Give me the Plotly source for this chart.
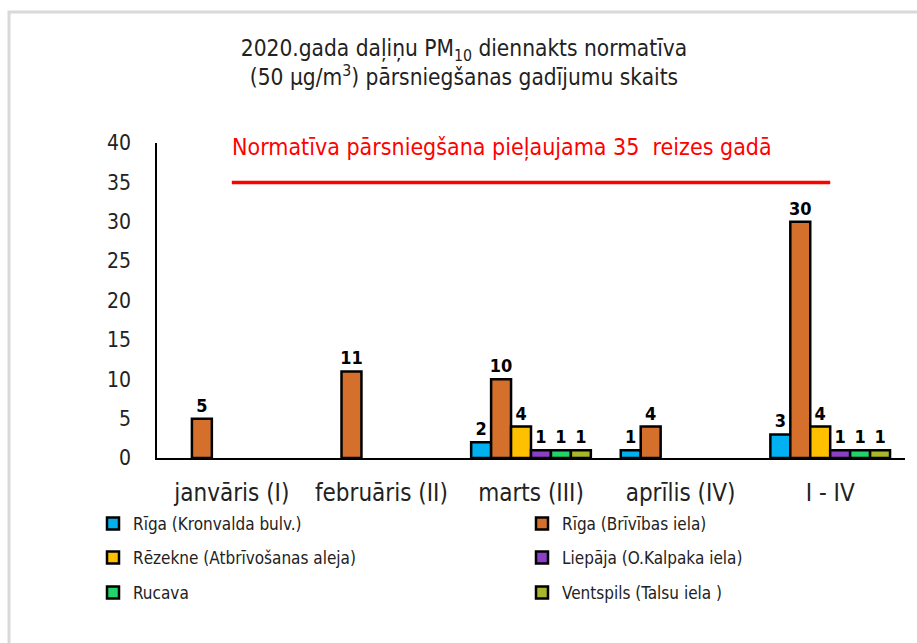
import plotly.graph_objects as go

categories = ["janvāris (I)", "februāris (II)", "marts (III)", "aprīlis (IV)", "I - IV"]

riga_kronvalda = [None, None, 2, 1, 3]
riga_brivibas = [5, 11, 10, 4, 30]
rezekne = [None, None, 4, None, 4]
liepaja = [None, None, 1, None, 1]
rucava = [None, None, 1, None, 1]
ventspils = [None, None, 1, None, 1]

series_names = [
    "Rīga (Kronvalda bulv.)",
    "Rīga (Brīvības iela)",
    "Rēzekne (Atbrīvošanas aleja)",
    "Liepāja (O.Kalpaka iela)",
    "Rucava",
    "Ventspils (Talsu iela )",
]
series_values = [riga_kronvalda, riga_brivibas, rezekne, liepaja, rucava, ventspils]
series_colors = ["#00B0F0", "#D4702C", "#FFC000", "#8A3FC6", "#22D36A", "#A9B52A"]

norm_limit = [35, 35, 35, 35, 35]
norm_text = "Normatīva pārsniegšana pieļaujama 35  reizes gadā"

y_ticks = [0, 5, 10, 15, 20, 25, 30, 35, 40]

FONT = "DejaVu Sans Condensed, DejaVu Sans, sans-serif"
TXT = "#222222"

W, H = 917, 643
ML, MR, MT, MB = 157, 12, 143, 185
PW, PH = W - ML - MR, H - MT - MB


def px_x(p):
    return (p - ML) / PW


def px_y(p):
    return (H - MB - p) / PH


fig = go.Figure()

legend_ids = ["legend", "legend2", "legend3", "legend4", "legend5", "legend6"]
for name, vals, col, lg in zip(series_names, series_values, series_colors, legend_ids):
    fig.add_trace(go.Bar(
        x=categories, y=vals, name=name,
        marker=dict(color=col, line=dict(color="black", width=2.5)),
        text=[("" if v is None else str(v)) for v in vals],
        textposition="outside",
        textfont=dict(family=FONT, size=18, color="black", weight="bold"),
        constraintext="none",
        cliponaxis=False,
        legend=lg,
    ))

fig.add_trace(go.Scatter(
    x=categories, y=norm_limit, mode="lines",
    line=dict(color="#FF0000", width=3.5),
    showlegend=False, hoverinfo="skip",
))

fig.add_annotation(
    x=categories[0], y=39.4, xref="x", yref="y",
    text=norm_text, showarrow=False, xanchor="left", yanchor="middle",
    xshift=-2,
    font=dict(family=FONT, size=23, color="#FF0000"),
)

fig.add_shape(
    type="rect", xref="paper", yref="paper",
    x0=px_x(9), x1=px_x(940), y0=px_y(680), y1=px_y(12),
    line=dict(color="#D9D9D9", width=3), fillcolor="rgba(0,0,0,0)", layer="below",
)

legend_common = dict(
    orientation="v", xanchor="left", yanchor="middle",
    font=dict(family=FONT, size=17, color=TXT),
    bgcolor="rgba(0,0,0,0)", itemclick=False, itemdoubleclick=False,
)

col_x = [93, 522]
row_y = [524, 558, 593]
legend_layout = {}
for i, lg in enumerate(legend_ids):
    legend_layout[lg] = dict(x=px_x(col_x[i % 2]), y=px_y(row_y[i // 2]), **legend_common)

fig.update_layout(
    width=W, height=H,
    margin=dict(l=ML, r=MR, t=MT, b=MB, autoexpand=False),
    paper_bgcolor="white", plot_bgcolor="white",
    font=dict(family=FONT, color=TXT),
    title=dict(
        text="2020.gada daļiņu PM<sub>10</sub> diennakts normatīva<br>(50 μg/m<sup>3</sup>) pārsniegšanas gadījumu skaits",
        x=464 / W, xanchor="center", xref="container",
        y=1 - 56 / H, yanchor="middle",
        font=dict(family=FONT, size=22.5, color=TXT),
    ),
    barmode="group", bargap=0.2, bargroupgap=0.0,
    xaxis=dict(
        showline=True, linecolor="black", linewidth=2,
        ticks="", showgrid=False, zeroline=False,
        tickfont=dict(family=FONT, size=24, color=TXT),
        ticklabelstandoff=12,
    ),
    yaxis=dict(
        range=[0, 40], tickvals=y_ticks,
        showline=True, linecolor="black", linewidth=1.5,
        ticks="", showgrid=False, zeroline=False,
        tickfont=dict(family=FONT, size=21, color=TXT),
        ticklabelstandoff=20,
    ),
    showlegend=True,
    **legend_layout,
)

fig.write_html(
    "out.html",
    config={"displayModeBar": False},
    post_script="document.body.style.margin='0';document.body.style.overflow='hidden';",
)
